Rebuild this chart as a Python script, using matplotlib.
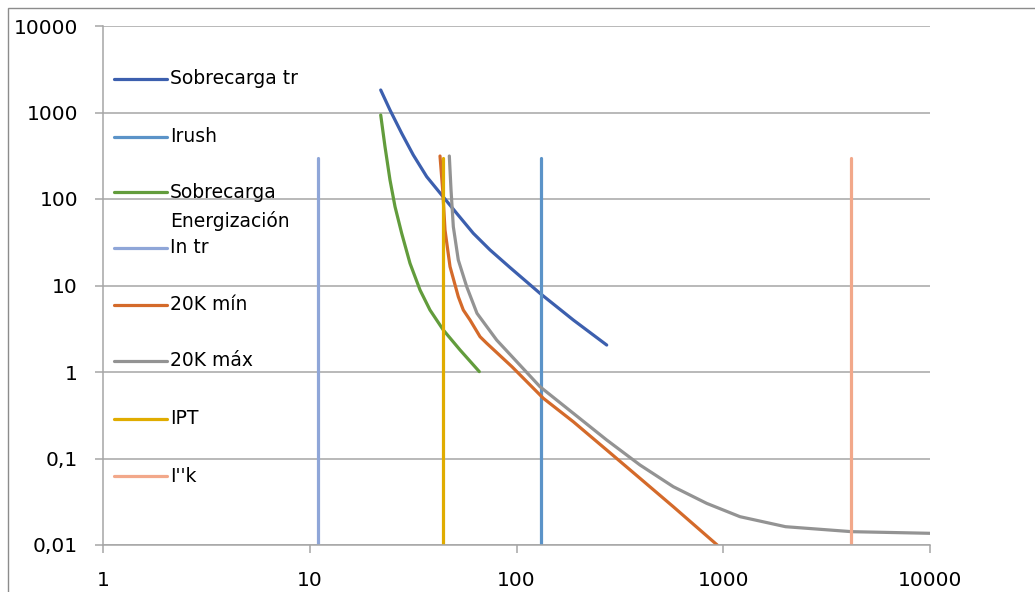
import matplotlib.pyplot as plt
from matplotlib.lines import Line2D
from matplotlib.patches import Rectangle

plt.rcParams['font.family'] = ['DejaVu Sans']

# Curvas de protección (corriente en A, tiempo en s)
sobrecarga_tr_x = [22.04, 24.44, 27.84, 31.68, 36.79, 43.46, 51.38, 61.82,
                   74.44, 93.0, 129.9, 188.3, 273.1]
sobrecarga_tr_y = [1820, 1069, 575, 322.6, 181.1, 111.2, 68.3, 40.1,
                   25.8, 16.15, 8.12, 3.99, 2.05]

energ_x = [22.04, 23.12, 24.44, 25.85, 27.84, 30.54, 34.15, 38.15, 44.25,
           53.30, 66.09]
energ_y = [935.6, 402.3, 165.9, 81.5, 40.1, 18.06, 8.87, 5.21, 3.06,
           1.80, 1.01]

k20_min_x = [42.66, 43.96, 45.10, 47.70, 52.30, 55.29, 59.60, 66.62, 71.76,
             95.1, 134.8, 188.3, 273.1, 395.7, 573.3, 935]
k20_min_y = [314, 127.1, 43.8, 16.5, 7.42, 5.21, 3.99, 2.56, 2.15,
             1.15, 0.497, 0.266, 0.1254, 0.0590, 0.0277, 0.01]

k20_max_x = [47.32, 48.23, 49.48, 52.30, 57.43, 64.4, 80.2, 129.9, 188.3,
             273.1, 395.7, 573.3, 831.6, 1205, 2000, 4180, 10000]
k20_max_y = [314, 127.1, 47.8, 19.7, 9.69, 4.77, 2.34, 0.676, 0.333,
             0.1637, 0.0841, 0.0472, 0.0303, 0.02125, 0.01628, 0.01426,
             0.01365]

# Corrientes fijas (líneas verticales)
irush_x = 131
in_tr_x = 11
ipt_x = 44
ik_x = 4150
vert_y = [0.01, 300]

series = [
    ("Sobrecarga tr", sobrecarga_tr_x, sobrecarga_tr_y, "#3C5FAE"),
    ("Irush", [irush_x, irush_x], vert_y, "#5B93C8"),
    ("Sobrecarga\nEnergización", energ_x, energ_y, "#629C3C"),
    ("In tr", [in_tr_x, in_tr_x], vert_y, "#8FA6D8"),
    ("20K mín", k20_min_x, k20_min_y, "#D46A2A"),
    ("20K máx", k20_max_x, k20_max_y, "#939393"),
    ("IPT", [ipt_x, ipt_x], vert_y, "#E0AC00"),
    ("I''k", [ik_x, ik_x], vert_y, "#F2A88A"),
]

W, H = 1035, 592
fig = plt.figure(figsize=(W / 100, H / 100), dpi=100)
ax = fig.add_axes([103 / W, 1 - 545 / H, (930 - 103) / W, (545 - 26) / H])

for label, xs, ys, color in series:
    ax.plot(xs, ys, color=color, lw=2.3, solid_capstyle='round',
            solid_joinstyle='round')

ax.set_xscale('log')
ax.set_yscale('log')
ax.set_xlim(1, 10000)
ax.set_ylim(0.01, 10000)

xticks = [1, 10, 100, 1000, 10000]
yticks = [0.01, 0.1, 1, 10, 100, 1000, 10000]
ytick_labels = ["0,01", "0,1", "1", "10", "100", "1000", "10000"]
ax.set_xticks(xticks)
ax.set_xticklabels([str(t) for t in xticks])
ax.set_yticks(yticks)
ax.set_yticklabels(ytick_labels)
ax.minorticks_off()

grid_c = "#A6A6A6"
ax.grid(axis='y', color=grid_c, lw=1.1)
ax.set_axisbelow(True)
ax.tick_params(axis='both', direction='out', length=6, width=1.1, color=grid_c,
               labelsize=14.5, labelcolor='black')
ax.tick_params(axis='y', pad=12)
ax.tick_params(axis='x', pad=13)
for s in ['top', 'right']:
    ax.spines[s].set_visible(False)
for s in ['left', 'bottom']:
    ax.spines[s].set_color(grid_c)
    ax.spines[s].set_linewidth(1.1)

# Leyenda a la izquierda, dentro del área de trazado
leg_y = [79, 137, 192, 248, 305, 361, 419, 476]
for (label, xs, ys, color), ypx in zip(series, leg_y):
    yf = 1 - ypx / H
    fig.add_artist(Line2D([114 / W, 167 / W], [yf, yf], color=color, lw=2.3,
                          solid_capstyle='round'))
    lines = label.split("\n")
    for j, txt in enumerate(lines):
        fig.text(170 / W, 1 - (ypx + 29 * j) / H, txt, fontsize=13.5,
                 va='center', ha='left')

# Borde del área del gráfico
fig.add_artist(Rectangle((8 / W, -0.1), 1.2, 1.1 - 8 / H, transform=fig.transFigure,
                         fill=False, edgecolor="#8C8C8C", lw=1.0))

fig.savefig("out.png", dpi=100)
